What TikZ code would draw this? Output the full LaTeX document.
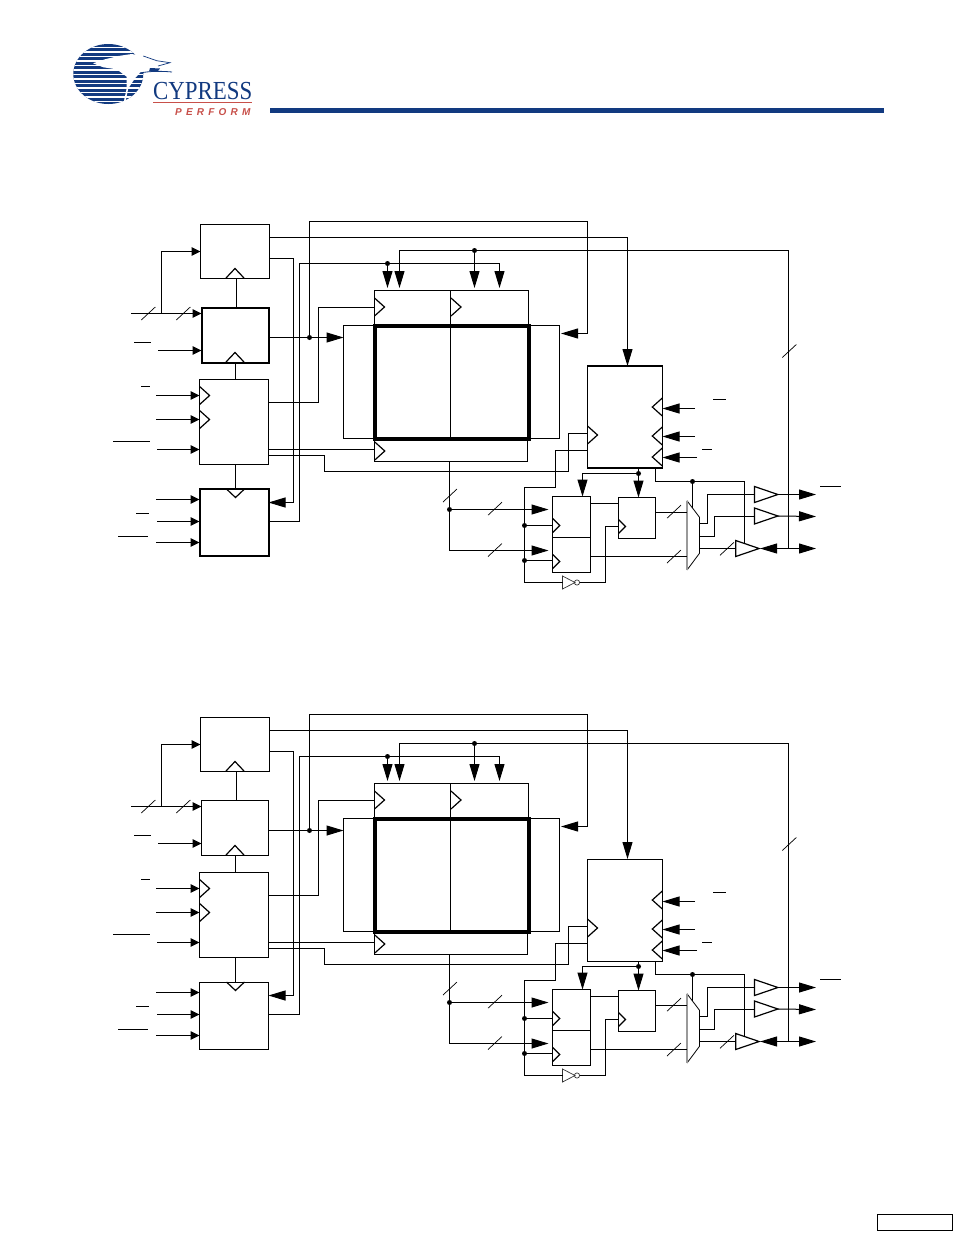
\documentclass[tikz,border=0pt]{standalone}
\usepackage{fontspec}
\setmainfont{Liberation Serif}
\newfontfamily\perffont[LetterSpace=42]{Liberation Sans}
\usetikzlibrary{arrows.meta,shapes.geometric}
\definecolor{cyblue}{HTML}{123A80}
\definecolor{cyred}{HTML}{C8504A}
\tikzset{
  x=1pt,y=-1pt,
  wire/.style={line width=1pt,line join=miter},
  box/.style={draw,line width=#1,inner sep=0,outer sep=0,anchor=north west,fill=none},
  box/.default=1pt,
  sm/.style={-{Triangle[length=9pt,width=8.5pt]}},
  bg/.style={-{Triangle[length=17pt,width=10pt]}},
  chev/.style={line width=1.2pt},
  bar/.style={line width=1pt},
  slash/.style={line width=0.7pt},
  jdot/.style={circle,fill,inner sep=0,minimum size=5pt},
  buf/.style={draw,isosceles triangle,isosceles triangle stretches,inner sep=0,outer sep=0,anchor=west,line width=1.2pt,minimum width=16pt,minimum height=23.4pt},
  wA/.style={}, wB/.style={}, wC/.style={}, wD/.style={}, wF/.style={}, wG/.style={}, wH/.style={}, wDiv/.style={}, wVert/.style={}
}
\newcommand{\chR}[2]{\draw[chev] (#1,#2-9) -- (#1+10,#2) -- (#1,#2+9);}
\newcommand{\chL}[2]{\draw[chev] (#1,#2-9) -- (#1-10,#2) -- (#1,#2+9);}
\newcommand{\chr}[2]{\draw[chev] (#1,#2-7) -- (#1+7,#2) -- (#1,#2+7);}
\newcommand{\chU}[2]{\draw[chev] (#1-9,#2) -- (#1,#2-9.5) -- (#1+9,#2);}
\newcommand{\chD}[2]{\draw[chev] (#1-9,#2) -- (#1,#2+8.5) -- (#1+9,#2);}
\newcommand{\slsh}[2]{\draw[slash] (#1-7,#2+6.5) -- (#1+7,#2-6.5);}
\newcommand{\dgm}{%
  % boxes
  \node[box,wA,minimum width=69pt,minimum height=54pt] (A) at (200.5,224.5) {};
  \node[box,wB,minimum width=67pt,minimum height=55pt] (B) at (201.5,307.5) {};
  \node[box,wC,minimum width=69pt,minimum height=85pt] (C) at (199.5,379.5) {};
  \node[box,wD,minimum width=69pt,minimum height=67pt] (D) at (199.5,489) {};
  \node[box=1pt,minimum width=216pt,minimum height=113pt] (RO) at (343.5,325.5) {};
  \node[box=1.4pt,minimum width=154pt,minimum height=35pt] (RT) at (374.5,290.5) {};
  \node[box=1pt,minimum width=153pt,minimum height=23pt] (RB) at (374.5,438.5) {};
  \node[box=4pt,minimum width=154pt,minimum height=113pt] (RAM) at (374.5,325.5) {};
  \draw[wire,wVert] (450.5,0 |- RT.north) -- (450.5,0 |- RAM.south);
  \node[box,wF,minimum width=75pt,minimum height=102pt] (F) at (587.5,366) {};
  \node[box,wG,minimum width=38pt,minimum height=76pt] (G) at (552.5,496.5) {};
  \draw[wire,wDiv] (G.west |- 0,537.5) -- (G.east |- 0,537.5);
  \node[box,wH,minimum width=37pt,minimum height=41pt] (H) at (618.5,497.5) {};
  % chevrons
  \chU{235}{278} \chU{235}{362} \chD{235.5}{489}
  \chR{199.6}{395.5} \chR{199.6}{419.5}
  \chR{374.5}{307} \chR{451}{307} \chR{374.8}{451}
  \chR{587.5}{435}
  \chL{662.3}{407} \chL{662.3}{436} \chL{662.3}{457}
  \chr{552.7}{525.5} \chr{552.7}{561.5} \chr{618.5}{526.5}
  % free ends
  \coordinate (i1) at (131,313.5);
  \coordinate (i2) at (158,350.5);
  \coordinate (i3) at (156,395.5);
  \coordinate (i4) at (156,419.5);
  \coordinate (i5) at (157,449.5);
  \coordinate (i6) at (156,499.5);
  \coordinate (i7) at (157,521.5);
  \coordinate (i8) at (156,542.5);
  \coordinate (i9) at (695,408.5);
  \coordinate (i10) at (695,436.5);
  \coordinate (i11) at (697,457.5);
  \coordinate (o1) at (816,494.5);
  \coordinate (o2) at (816,516.5);
  \coordinate (o3) at (816,548.5);
  % junctions
  \node[jdot] (jB) at (309.5,337.5) {};
  \node[jdot] (jW) at (387.5,263.5) {};
  \node[jdot] (jU) at (474.5,250.5) {};
  \node[jdot] (jQ) at (449.5,509.5) {};
  \node[jdot] (jC1) at (524.5,525.5) {};
  \node[jdot] (jC2) at (524.5,560.5) {};
  \node[jdot] (jF) at (638.5,473.5) {};
  \node[jdot] (jE) at (692.5,481.5) {};
  \coordinate (jBus) at (161.5,313.5);
  \coordinate (jOut) at (788.5,548.5);
  % vertical links
  \draw[wire] (236.5,0 |- A.south) -- (236.5,0 |- B.north);
  \draw[wire] (235.5,0 |- B.south) -- (235.5,0 |- C.north);
  \draw[wire] (235.5,0 |- C.south) -- (235.5,0 |- D.north);
  % inputs
  \draw[wire,sm] (i1) -- (B.west |- i1);
  \draw[wire,sm] (jBus) |- (A.west |- 0,251.5);
  \draw[wire,sm] (i2) -- (B.west |- i2);
  \draw[wire,sm] (i3) -- (C.west |- i3);
  \draw[wire,sm] (i4) -- (C.west |- i4);
  \draw[wire,sm] (i5) -- (C.west |- i5);
  \draw[wire,sm] (i6) -- (D.west |- i6);
  \draw[wire,sm] (i7) -- (D.west |- i7);
  \draw[wire,sm] (i8) -- (D.west |- i8);
  \slsh{148.3}{313.5} \slsh{183.3}{313.5}
  \draw[bar] (134,342.5) -- (151,342.5);
  \draw[bar] (141,386.5) -- (150,386.5);
  \draw[bar] (113,441.5) -- (150,441.5);
  \draw[bar] (136,513.5) -- (149,513.5);
  \draw[bar] (118,536.5) -- (148,536.5);
  % long wires
  \draw[wire,bg] (A.east |- 0,237.5) -| (627.5,0 |- F.north);
  \draw[wire,bg] (A.east |- 0,258.5) -- (293.5,258.5) -- (293.5,502.5) -- (D.east |- 0,502.5);
  \draw[wire,bg,shorten >=2.5pt] (D.east |- 0,521.5) -| (299.5,263.5) -- (499.5,263.5) -- (499.5,0 |- RT.north);
  \draw[wire,bg,shorten >=2.5pt] (jW) -- (387.5,0 |- RT.north);
  \draw[wire,bg] (B.east |- 0,337.5) -- (RO.west |- 0,337.5);
  \draw[wire,bg,shorten >=1.5pt] (jB) -- (309.5,221.5) -- (587.5,221.5) -- (587.5,333.5) -- (RO.east |- 0,333.5);
  \draw[wire,bg,shorten >=2.5pt] (jOut) -- (788.5,250.5) -- (399.5,250.5) -- (399.5,0 |- RT.north);
  \draw[wire,bg,shorten >=2.5pt] (jU) -- (474.5,0 |- RT.north);
  \slsh{789.3}{351}
  \draw[wire] (C.east |- 0,402.5) -| (318.5,307.5) -- (RT.west |- 0,307.5);
  \draw[wire] (C.east |- 0,449.5) -- (RB.west |- 0,449.5);
  \draw[wire] (C.east |- 0,455.5) -| (324.5,471.5) -| (568.5,433.5) -- (F.west |- 0,433.5);
  % right-side inputs
  \draw[wire,bg] (i9) -- (F.east |- i9);
  \draw[wire,bg] (i10) -- (F.east |- i10);
  \draw[wire,bg] (i11) -- (F.east |- i11);
  \draw[bar] (713,399.5) -- (726,399.5);
  \draw[bar] (702,449.5) -- (712,449.5);
  % data path
  \draw[wire,bg,shorten >=4pt] (449.5,0 |- RB.south) -- (449.5,550.5) -- (G.west |- 0,550.5);
  \draw[wire,bg,shorten >=4pt] (jQ) -- (G.west |- jQ);
  \slsh{450}{495.5} \slsh{495}{508.7} \slsh{495}{550}
  \draw[wire] (jC1) -- (G.west |- jC1);
  \draw[wire] (jC2) -- (G.west |- jC2);
  % inverter
  \node[draw,isosceles triangle,isosceles triangle stretches,inner sep=0,outer sep=0,anchor=west,line width=0.7pt,minimum width=13pt,minimum height=12.5pt,draw=black!80] (INV) at (562.5,582.5) {};
  \node[draw,circle,inner sep=0,minimum size=5.2pt,line width=0.7pt,draw=black!80] (BUB) at (577,582.5) {};
  \draw[wire] (F.west |- 0,450.5) -| (555.5,487.5) -| (524.5,582.5) -- (INV.west);
  \draw[wire] (BUB.east) -| (605.5,526.5) -- (H.west |- 0,526.5);
  \draw[wire] (G.east |- 0,503.5) -- (H.west |- 0,503.5);
  % enables
  \draw[wire] (638.5,0 |- F.south) -- (jF);
  \draw[wire,bg] (jF) -- (638.5,0 |- H.north);
  \draw[wire,bg] (jF) -| (582.5,0 |- G.north);
  % mux
  \coordinate (mT) at (687,500.7);
  \coordinate (mB) at (687,570);
  \coordinate (mTR) at (699.5,517.3);
  \coordinate (mBR) at (699.5,553.3);
  \draw[line width=0.8pt] (mT) -- (mTR) -- (mBR) -- (mB);
  \draw[line width=1.4pt,black!40] (mT) -- (mB);
  \draw[wire] (H.east |- 0,512.5) -- (mT |- 0,512.5);
  \draw[wire] (G.east |- 0,556.5) -- (mT |- 0,556.5);
  \slsh{674}{511.7} \slsh{674}{556.5}
  % buffers
  \node[buf] (B1) at (754.5,494.5) {};
  \node[buf] (B2) at (754.5,516) {};
  \node[buf] (B3) at (735.7,548.5) {};
  \draw[wire] (mTR |- 0,523.5) -| (707.5,494.5) -- (B1.west);
  \draw[wire] (mTR |- 0,536.5) -| (714.5,516) -- (B2.west);
  \draw[wire] (mTR |- 0,548.5) -- (B3.west);
  \slsh{727}{548.8}
  \draw[wire] (655.5,0 |- F.south) |- (jE);
  \draw[wire] (jE) -- (692.5,508);
  \draw[wire] (jE) -- (744.5,481.5) -- (744.5,543.3);
  \draw[wire,bg] (B1.east) -- (o1);
  \draw[wire,bg] (B2.east) -- (o2);
  \draw[wire,bg] (jOut) -- (o3);
  \draw[wire,bg,shorten >=1pt] (jOut) -- (B3.east);
  \draw[bar] (820,486.5) -- (840.7,486.5);
}
\begin{document}
\begin{tikzpicture}
\useasboundingbox (0,0) rectangle (954,1235);
\fill[white] (0,0) rectangle (954,1235);
% logo
\begin{scope}
  \clip (108.3,74) ellipse (35 and 30);
  \fill[cyblue] (70,42) rectangle (146,106);
  \foreach \yy in {47.5,52,56.5,61,65.5,70,74.5,79,83.5,88,92.5,97,101.5}
    \draw[white,line width=1.5pt] (70,\yy) -- (146,\yy);
\end{scope}
\fill[white] (93,63.3) -- (105,59.3) -- (118.3,56) -- (131.7,54) -- (143.3,56) -- (156.7,60.7) -- (170,62.7) -- (160,67.3) -- (150,70) -- (140,72.7) -- (135,78.3) -- (128.3,88.3) -- (125,104) -- (123.3,104) -- (126.7,88.3) -- (126.7,76.7) -- (116.7,69.3) -- (103.3,67.3) -- cycle;
\draw[cyblue,line width=0.7pt] (143.3,56) -- (156.7,60.7) -- (170,62.7) -- (158,66);
\draw[cyblue,line width=0.8pt] (140,73) .. controls (150,71) and (162,71) .. (172,72);
\fill[cyblue] (150,68) -- (160,68.5) -- (158,71) -- (149,71.5) -- cycle;
\node[inner sep=0,anchor=base west,text=cyblue,xscale=0.88] (lgC) at (153,99) {\fontsize{26pt}{26pt}\selectfont CYPRESS};
\draw[cyred,line width=0.6pt] (153,102.7) -- (252,102.7);
\node[inner sep=0,anchor=base west,text=cyred] (lgP) at (175,115) {\perffont\bfseries\itshape\fontsize{10pt}{10pt}\selectfont PERFORM};
\fill[cyblue] (270,108) rectangle (884,113);
% first diagram
\begin{scope}[name prefix=u-,wA/.style={line width=1.3pt},wB/.style={line width=2pt},wC/.style={line width=1.5pt},wD/.style={line width=2pt},wF/.style={line width=1.8pt},wG/.style={line width=1.8pt},wH/.style={line width=1.4pt}]
  \dgm
\end{scope}
% second diagram
\begin{scope}[yshift=-493pt,name prefix=v-,wA/.style={line width=1.4pt},wB/.style={line width=1.4pt},wC/.style={line width=1.2pt},wG/.style={line width=1.4pt},wH/.style={line width=1.4pt},wDiv/.style={line width=1.6pt},wVert/.style={line width=1.6pt}]
  \dgm
\end{scope}
% footer box
\node[box=1.2pt,minimum width=75pt,minimum height=16pt] (foot) at (877.5,1214.5) {};
\end{tikzpicture}
\end{document}
